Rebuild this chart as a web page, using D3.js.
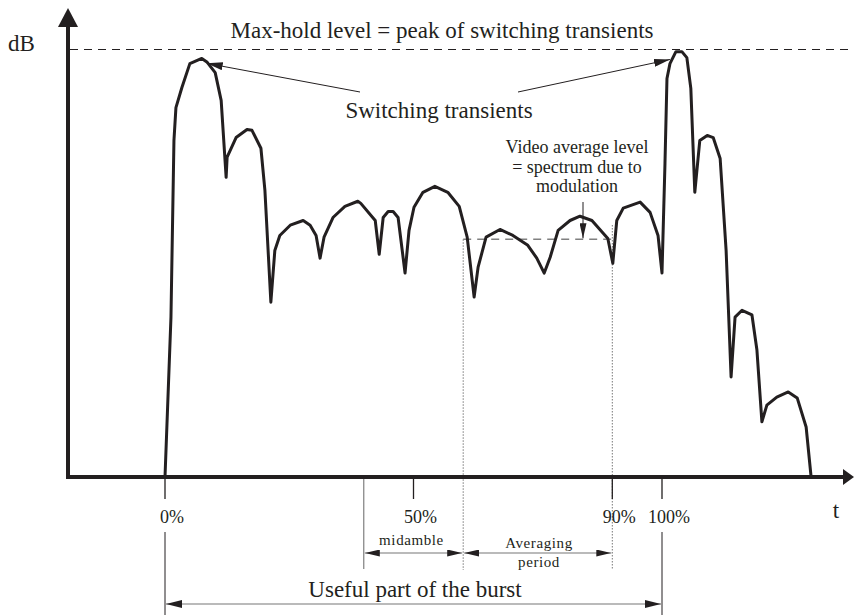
<!DOCTYPE html>
<html>
<head>
<meta charset="utf-8">
<script src="https://cdn.jsdelivr.net/npm/d3@7"></script>
<style>
  body { margin: 0; background: #fff; }
  svg text { font-family: "Liberation Serif", "Times New Roman", serif; fill: #231f20; }
</style>
</head>
<body>
<div id="vis"></div>
<script>
////////////////////////////////////////
//////////////// Data //////////////////
////////////////////////////////////////

// time in % of the useful part of the burst
const burstPct = [
  0, 1.2, 1.8, 2.2, 3.4, 5.0, 7.4, 8.5, 10.1, 11.3, 12.3, 12.5, 14.3, 16.5, 17.5,
  19.3, 20.1, 21.3, 22.1, 23.1, 25.2, 27.8, 29.2, 30.4, 31.2, 32.0, 33.8, 36.2,
  38.8, 39.4, 42.3, 43.1, 43.9, 44.9, 45.9, 46.9, 48.3, 49.1, 50.1, 51.9, 54.3,
  56.9, 59.2, 60.8, 62.2, 63.0, 64.6, 67.4, 70.0, 73.0, 74.8, 76.3, 77.5, 79.1,
  81.5, 83.5, 85.9, 89.1, 90.1, 90.9, 92.2, 95.6, 97.6, 99.2, 100.0, 100.6,
  101.0, 101.6, 102.8, 104.0, 105.0, 105.8, 106.6, 107.6, 109.1, 110.3, 111.7,
  112.9, 113.9, 114.7, 116.1, 118.1, 119.1, 120.1, 121.1, 123.1, 125.4, 127.2,
  129.0, 130.0
];

// relative level (max-hold = 100)
const levelDb = [
  0, 37.4, 78.7, 86.4, 91.1, 96.7, 97.9, 97.0, 94.6, 88.1, 70.1, 74.8, 79.4, 81.3, 81.1,
  76.9, 67.1, 40.9, 53.0, 56.5, 58.9, 60.0, 58.9, 56.5, 51.2, 56.1, 60.7, 63.3,
  64.5, 64.0, 60.0, 52.1, 60.7, 62.1, 62.1, 60.7, 47.7, 57.7, 63.1, 66.6, 68.0,
  66.6, 63.3, 56.1, 42.1, 49.1, 56.1, 57.9, 56.5, 54.2, 51.2, 47.7, 51.4, 57.7,
  60.0, 61.0, 60.0, 55.8, 50.0, 60.0, 62.9, 64.3, 61.9, 56.5, 47.7, 73.4,
  93.2, 96.7, 99.5, 99.5, 98.1, 90.9, 66.6, 78.7, 79.9, 79.4, 74.5,
  53.0, 23.4, 37.4, 39.0, 37.9, 29.7, 12.9, 16.8, 18.7, 19.9, 18.5,
  11.7, 0
];

const tickPct = [0, 50, 90, 100];
const tickLabels = ["0%", "50%", "90%", "100%"];

const midamblePct = [40, 60];
const averagingPct = [60, 90];
const usefulPct = [0, 100];

const maxHoldLevel = 100;
const videoAvgLevel = 55.6;

// peaks pointed at by the "Switching transients" arrows
const transientPeaks = [[8.4, 97.0], [101.6, 97.9]];

////////////////////////////////////////
////////////// SVG Setup ///////////////
////////////////////////////////////////

const W = 854, H = 615;
const ink = "#231f20";

const svg = d3.select("#vis").append("svg")
  .attr("width", W).attr("height", H)
  .attr("viewBox", `0 0 ${W} ${H}`);

const defs = svg.append("defs");
function marker(id, len, wid) {
  defs.append("marker")
    .attr("id", id)
    .attr("viewBox", `0 0 ${len} ${wid}`)
    .attr("refX", len).attr("refY", wid / 2)
    .attr("markerUnits", "userSpaceOnUse")
    .attr("markerWidth", len).attr("markerHeight", wid)
    .attr("orient", "auto-start-reverse")
    .append("path")
    .attr("d", `M0,0L${len},${wid / 2}L0,${wid}Z`)
    .attr("fill", ink);
}
marker("arrSmall", 16, 8);
marker("arrMid", 15, 7);

////////////////////////////////////////
////////////// Scales //////////////////
////////////////////////////////////////

const x = d3.scaleLinear().domain([0, 100]).range([165, 662]);
const y = d3.scaleLinear().domain([0, 100]).range([477, 49.5]);

const axisX0 = 68, axisY = y(0);

////////////////////////////////////////
////////////// Guides //////////////////
////////////////////////////////////////

// max-hold dashed level
svg.append("line")
  .attr("x1", axisX0 + 2).attr("x2", W)
  .attr("y1", y(maxHoldLevel)).attr("y2", y(maxHoldLevel))
  .attr("stroke", ink).attr("stroke-width", 1)
  .attr("stroke-dasharray", "8,6");

// dotted boundaries of the averaging period
[averagingPct[0], averagingPct[1]].forEach((p, i) => {
  svg.append("line")
    .attr("x1", x(p)).attr("x2", x(p))
    .attr("y1", i === 0 ? y(videoAvgLevel) : 225).attr("y2", 570)
    .attr("stroke", "#777").attr("stroke-width", 1)
    .attr("stroke-dasharray", "1.5,1.5");
});

// video average level (gray dashed)
svg.append("line")
  .attr("x1", x(averagingPct[0])).attr("x2", x(averagingPct[1]))
  .attr("y1", y(videoAvgLevel)).attr("y2", y(videoAvgLevel))
  .attr("stroke", "#808080").attr("stroke-width", 1.5)
  .attr("stroke-dasharray", "8,6");

////////////////////////////////////////
////////////// Curve ///////////////////
////////////////////////////////////////

const pts = burstPct.map((p, i) => [p, levelDb[i]]);
svg.append("path")
  .attr("d", d3.line().x(d => x(d[0])).y(d => y(d[1]))(pts))
  .attr("fill", "none")
  .attr("stroke", ink).attr("stroke-width", 3)
  .attr("stroke-linejoin", "round");

////////////////////////////////////////
//////////////// Axes //////////////////
////////////////////////////////////////

svg.append("line")
  .attr("x1", axisX0).attr("x2", 843)
  .attr("y1", axisY).attr("y2", axisY)
  .attr("stroke", ink).attr("stroke-width", 4);
svg.append("path")
  .attr("d", `M843,${axisY - 8}L854,${axisY}L843,${axisY + 8}Z`)
  .attr("fill", ink);

svg.append("line")
  .attr("x1", axisX0).attr("x2", axisX0)
  .attr("y1", axisY + 2).attr("y2", 26)
  .attr("stroke", ink).attr("stroke-width", 4);
svg.append("path")
  .attr("d", `M${axisX0 - 10},27L${axisX0},8L${axisX0 + 10},27Z`)
  .attr("fill", ink);

svg.append("text").attr("x", 8).attr("y", 51)
  .attr("font-size", 23).text("dB");
svg.append("text").attr("x", 836).attr("y", 518)
  .attr("font-size", 23).attr("text-anchor", "middle").text("t");

// percentage ticks
tickPct.forEach((p, i) => {
  svg.append("line")
    .attr("x1", x(p)).attr("x2", x(p))
    .attr("y1", axisY + 2).attr("y2", 499)
    .attr("stroke", ink).attr("stroke-width", 1.3);
  svg.append("text")
    .attr("x", x(p) + 7).attr("y", 523)
    .attr("font-size", 18).attr("text-anchor", "middle")
    .text(tickLabels[i]);
});

// extension lines below labels
[usefulPct[0], usefulPct[1]].forEach(p => {
  svg.append("line")
    .attr("x1", x(p)).attr("x2", x(p))
    .attr("y1", 532).attr("y2", H)
    .attr("stroke", ink).attr("stroke-width", 1);
});
svg.append("line")
  .attr("x1", x(midamblePct[0])).attr("x2", x(midamblePct[0]))
  .attr("y1", axisY + 2).attr("y2", 569)
  .attr("stroke", "#666").attr("stroke-width", 1);

////////////////////////////////////////
//////////// Dimensions ////////////////
////////////////////////////////////////

function dim(p0, p1, yy, mk) {
  svg.append("line")
    .attr("x1", x(p0) + 1).attr("x2", x(p1) - 1)
    .attr("y1", yy).attr("y2", yy)
    .attr("stroke", "#777").attr("stroke-width", 1.2)
    .attr("marker-start", `url(#${mk})`)
    .attr("marker-end", `url(#${mk})`);
}
dim(midamblePct[0], midamblePct[1], 553, "arrMid");
dim(averagingPct[0], averagingPct[1], 553, "arrMid");
dim(usefulPct[0], usefulPct[1], 604, "arrSmall");

svg.append("text").attr("x", x(50) - 2).attr("y", 545)
  .attr("font-size", 15).attr("letter-spacing", 0.6)
  .attr("text-anchor", "middle").text("midamble");
svg.append("text").attr("x", 539).attr("y", 548)
  .attr("font-size", 15).attr("letter-spacing", 0.6)
  .attr("text-anchor", "middle").text("Averaging");
svg.append("text").attr("x", 539).attr("y", 567)
  .attr("font-size", 15).attr("letter-spacing", 0.6)
  .attr("text-anchor", "middle").text("period");
svg.append("text").attr("x", 415).attr("y", 597)
  .attr("font-size", 23).attr("text-anchor", "middle")
  .text("Useful part of the burst");

////////////////////////////////////////
//////////// Annotations ///////////////
////////////////////////////////////////

svg.append("text").attr("x", 442).attr("y", 38)
  .attr("font-size", 23).attr("text-anchor", "middle")
  .text("Max-hold level = peak of switching transients");

svg.append("text").attr("x", 439).attr("y", 118)
  .attr("font-size", 23).attr("text-anchor", "middle")
  .text("Switching transients");

const arrowStarts = [[360, 92], [518, 92]];
transientPeaks.forEach((pk, i) => {
  svg.append("line")
    .attr("x1", arrowStarts[i][0]).attr("y1", arrowStarts[i][1])
    .attr("x2", x(pk[0])).attr("y2", y(pk[1]) + 1)
    .attr("stroke", ink).attr("stroke-width", 1)
    .attr("marker-end", "url(#arrSmall)");
});

// video average label and arrow
const avgX = 583;
svg.append("line")
  .attr("x1", avgX).attr("x2", avgX)
  .attr("y1", 202).attr("y2", y(videoAvgLevel) - 1)
  .attr("stroke", ink).attr("stroke-width", 1)
  .attr("marker-end", "url(#arrMid)");

[["Video average level", 153], ["= spectrum due to", 173], ["modulation", 192]]
  .forEach(([t, yy]) => {
    svg.append("text").attr("x", 577).attr("y", yy)
      .attr("font-size", 18).attr("text-anchor", "middle").text(t);
  });
</script>
</body>
</html>
